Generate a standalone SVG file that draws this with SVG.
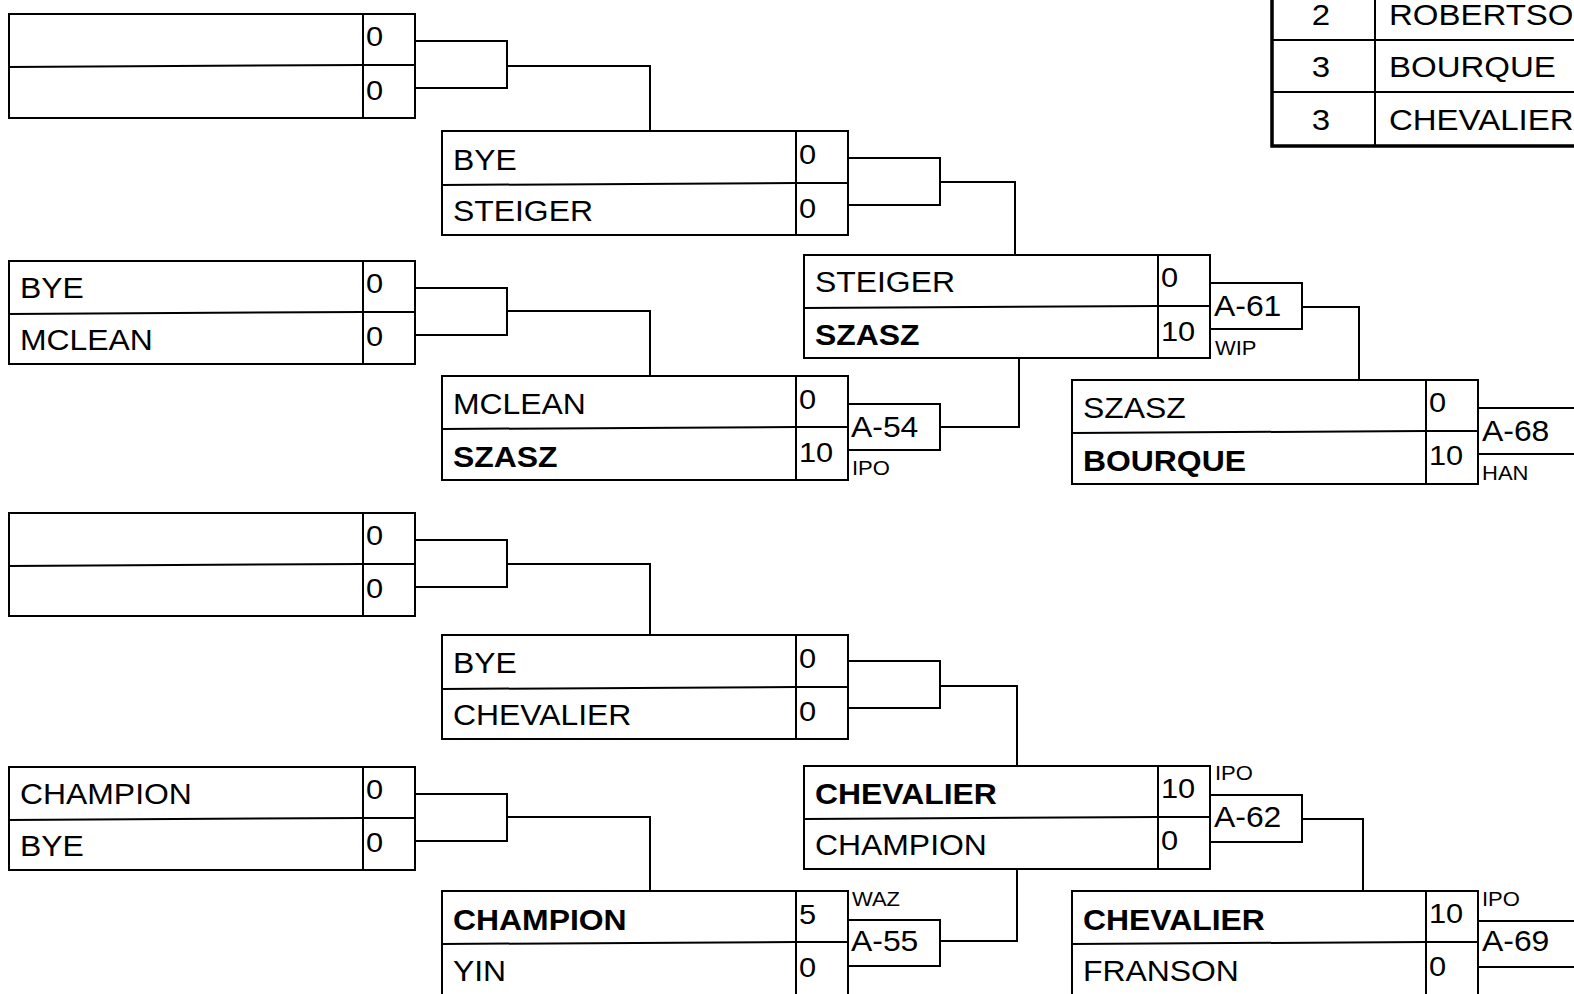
<svg xmlns="http://www.w3.org/2000/svg" width="1574" height="994" viewBox="0 0 1574 994">
<style>
.bx{fill:#fff;stroke:#000;stroke-width:2}
.ln{fill:none;stroke:#000;stroke-width:2}
.tb{fill:none;stroke:#000;stroke-width:3.5}
text{font-family:"Liberation Sans",Arial,sans-serif;fill:#000;transform-box:fill-box;transform-origin:0 0;transform:scaleX(1.1)}
.n{font-size:29px}
.b{font-size:29px;font-weight:bold}
.s{font-size:28px}
.lb{font-size:29px}
.sm{font-size:20px}
.t{font-size:30px}
.c{transform-origin:50% 0}
</style>
<rect width="1574" height="994" fill="#fff"/>

<g id="connectors">
<path class="ln" d="M415,41 H507 V88 H415 M507,66 H650 V131"/>
<path class="ln" d="M415,288 H507 V335 H415 M507,311 H650 V376"/>
<path class="ln" d="M415,540 H507 V587 H415 M507,564 H650 V635"/>
<path class="ln" d="M415,794 H507 V841 H415 M507,817 H650 V891"/>
<path class="ln" d="M848,158 H940 V205 H848 M940,182 H1015 V255"/>
<path class="ln" d="M848,404 H940 V450 H848 M940,427 H1019 V358"/>
<path class="ln" d="M848,661 H940 V708 H848 M940,686 H1017 V766"/>
<path class="ln" d="M848,920 H940 V966 H848 M940,941 H1017 V869"/>
<path class="ln" d="M1210,283 H1302 V329 H1210 M1302,307 H1359 V380"/>
<path class="ln" d="M1210,795 H1302 V842 H1210 M1302,819 H1363 V891"/>
<path class="ln" d="M1478,408 H1576 M1478,454 H1576"/>
<path class="ln" d="M1478,921 H1576 M1478,967 H1576"/>
</g>

<g id="match-labels">
<text class="lb" x="851" y="437">A-54</text>
<text class="sm" x="852" y="475">IPO</text>
<text class="sm" x="852" y="906">WAZ</text>
<text class="lb" x="851" y="951">A-55</text>
<text class="lb" x="1214" y="316">A-61</text>
<text class="sm" x="1215" y="355">WIP</text>
<text class="sm" x="1215" y="780">IPO</text>
<text class="lb" x="1214" y="827">A-62</text>
<text class="lb" x="1482" y="441">A-68</text>
<text class="sm" x="1482" y="480">HAN</text>
<text class="sm" x="1482" y="906">IPO</text>
<text class="lb" x="1482" y="951">A-69</text>
</g>

<g id="r1m1">
<rect class="bx" x="9" y="14" width="406" height="104"/>
<line class="ln" x1="9" y1="67" x2="363" y2="65"/><line class="ln" x1="363" y1="65" x2="415" y2="65"/>
<line class="ln" x1="363" y1="14" x2="363" y2="118"/>
<text class="s" x="366" y="46">0</text><text class="s" x="366" y="100">0</text>
</g>
<g id="r1m2">
<rect class="bx" x="9" y="261" width="406" height="103"/>
<line class="ln" x1="9" y1="314" x2="363" y2="312"/><line class="ln" x1="363" y1="312" x2="415" y2="312"/>
<line class="ln" x1="363" y1="261" x2="363" y2="364"/>
<text class="n" x="20" y="298">BYE</text><text class="n" x="20" y="350">MCLEAN</text>
<text class="s" x="366" y="293">0</text><text class="s" x="366" y="346">0</text>
</g>
<g id="r1m3">
<rect class="bx" x="9" y="513" width="406" height="103"/>
<line class="ln" x1="9" y1="566" x2="363" y2="564"/><line class="ln" x1="363" y1="564" x2="415" y2="564"/>
<line class="ln" x1="363" y1="513" x2="363" y2="616"/>
<text class="s" x="366" y="545">0</text><text class="s" x="366" y="598">0</text>
</g>
<g id="r1m4">
<rect class="bx" x="9" y="767" width="406" height="103"/>
<line class="ln" x1="9" y1="820" x2="363" y2="818"/><line class="ln" x1="363" y1="818" x2="415" y2="818"/>
<line class="ln" x1="363" y1="767" x2="363" y2="870"/>
<text class="n" x="20" y="804">CHAMPION</text><text class="n" x="20" y="856">BYE</text>
<text class="s" x="366" y="799">0</text><text class="s" x="366" y="852">0</text>
</g>

<g id="r2m1">
<rect class="bx" x="442" y="131" width="406" height="104"/>
<line class="ln" x1="442" y1="185" x2="796" y2="183"/><line class="ln" x1="796" y1="183" x2="848" y2="183"/>
<line class="ln" x1="796" y1="131" x2="796" y2="235"/>
<text class="n" x="453" y="170">BYE</text><text class="n" x="453" y="221">STEIGER</text>
<text class="s" x="799" y="164">0</text><text class="s" x="799" y="218">0</text>
</g>
<g id="r2m2">
<rect class="bx" x="442" y="376" width="406" height="104"/>
<line class="ln" x1="442" y1="429" x2="796" y2="427"/><line class="ln" x1="796" y1="427" x2="848" y2="427"/>
<line class="ln" x1="796" y1="376" x2="796" y2="480"/>
<text class="n" x="453" y="414">MCLEAN</text><text class="b" x="453" y="467">SZASZ</text>
<text class="s" x="799" y="409">0</text><text class="s" x="799" y="462">10</text>
</g>
<g id="r2m3">
<rect class="bx" x="442" y="635" width="406" height="104"/>
<line class="ln" x1="442" y1="689" x2="796" y2="687"/><line class="ln" x1="796" y1="687" x2="848" y2="687"/>
<line class="ln" x1="796" y1="635" x2="796" y2="739"/>
<text class="n" x="453" y="673">BYE</text><text class="n" x="453" y="725">CHEVALIER</text>
<text class="s" x="799" y="668">0</text><text class="s" x="799" y="721">0</text>
</g>
<g id="r2m4">
<rect class="bx" x="442" y="891" width="406" height="110"/>
<line class="ln" x1="442" y1="944" x2="796" y2="942"/><line class="ln" x1="796" y1="942" x2="848" y2="942"/>
<line class="ln" x1="796" y1="891" x2="796" y2="1001"/>
<text class="b" x="453" y="930">CHAMPION</text><text class="n" x="453" y="981">YIN</text>
<text class="s" x="799" y="924">5</text><text class="s" x="799" y="977">0</text>
</g>

<g id="r3m1">
<rect class="bx" x="804" y="255" width="406" height="103"/>
<line class="ln" x1="804" y1="308" x2="1158" y2="306"/><line class="ln" x1="1158" y1="306" x2="1210" y2="306"/>
<line class="ln" x1="1158" y1="255" x2="1158" y2="358"/>
<text class="n" x="815" y="292">STEIGER</text><text class="b" x="815" y="345">SZASZ</text>
<text class="s" x="1161" y="287">0</text><text class="s" x="1161" y="341">10</text>
</g>
<g id="r3m2">
<rect class="bx" x="804" y="766" width="406" height="103"/>
<line class="ln" x1="804" y1="819" x2="1158" y2="817"/><line class="ln" x1="1158" y1="817" x2="1210" y2="817"/>
<line class="ln" x1="1158" y1="766" x2="1158" y2="869"/>
<text class="b" x="815" y="804">CHEVALIER</text><text class="n" x="815" y="855">CHAMPION</text>
<text class="s" x="1161" y="798">10</text><text class="s" x="1161" y="850">0</text>
</g>

<g id="r4m1">
<rect class="bx" x="1072" y="380" width="406" height="104"/>
<line class="ln" x1="1072" y1="433" x2="1426" y2="431"/><line class="ln" x1="1426" y1="431" x2="1478" y2="431"/>
<line class="ln" x1="1426" y1="380" x2="1426" y2="484"/>
<text class="n" x="1083" y="418">SZASZ</text><text class="b" x="1083" y="471">BOURQUE</text>
<text class="s" x="1429" y="412">0</text><text class="s" x="1429" y="465">10</text>
</g>
<g id="r4m2">
<rect class="bx" x="1072" y="891" width="406" height="110"/>
<line class="ln" x1="1072" y1="944" x2="1426" y2="942"/><line class="ln" x1="1426" y1="942" x2="1478" y2="942"/>
<line class="ln" x1="1426" y1="891" x2="1426" y2="1001"/>
<text class="b" x="1083" y="930">CHEVALIER</text><text class="n" x="1083" y="981">FRANSON</text>
<text class="s" x="1429" y="923">10</text><text class="s" x="1429" y="976">0</text>
</g>

<g id="standings">
<rect class="tb" x="1272" y="-14" width="320" height="160"/>
<line class="ln" x1="1272" y1="40" x2="1574" y2="40"/>
<line class="ln" x1="1272" y1="92" x2="1574" y2="92"/>
<line class="ln" x1="1375" y1="-2" x2="1375" y2="146"/>
<text class="t c" x="1321" y="25" text-anchor="middle">2</text>
<text class="t" x="1389" y="25">ROBERTSON</text>
<text class="t c" x="1321" y="77" text-anchor="middle">3</text>
<text class="t" x="1389" y="77">BOURQUE</text>
<text class="t c" x="1321" y="130" text-anchor="middle">3</text>
<text class="t" x="1389" y="130">CHEVALIER</text>
</g>
</svg>
